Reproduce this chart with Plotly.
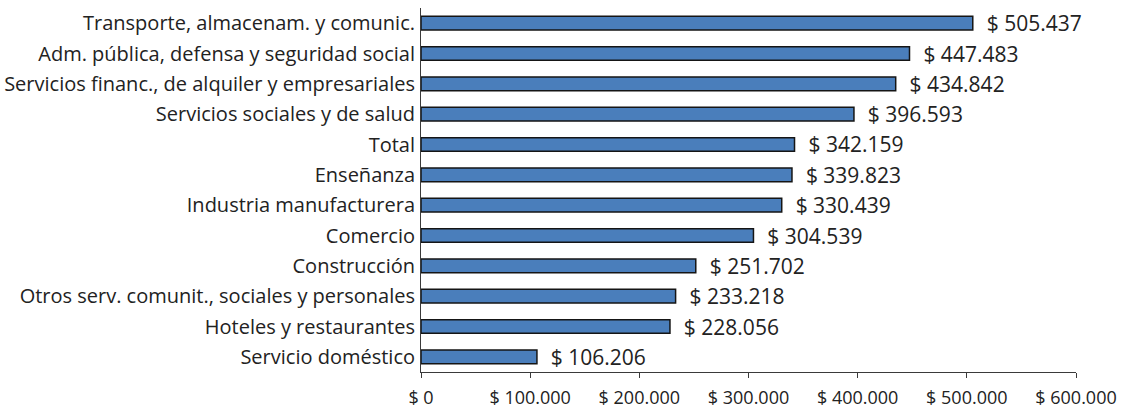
import plotly.graph_objects as go

categories = [
    "Transporte, almacenam. y comunic.",
    "Adm. pública, defensa y seguridad social",
    "Servicios financ., de alquiler y empresariales",
    "Servicios sociales y de salud",
    "Total",
    "Enseñanza",
    "Industria manufacturera",
    "Comercio",
    "Construcción",
    "Otros serv. comunit., sociales y personales",
    "Hoteles y restaurantes",
    "Servicio doméstico",
]
values = [505437, 447483, 434842, 396593, 342159, 339823, 330439, 304539, 251702, 233218, 228056, 106206]
tick_values = [0, 100000, 200000, 300000, 400000, 500000, 600000]
tick_labels = ["$ 0", "$ 100.000", "$ 200.000", "$ 300.000", "$ 400.000", "$ 500.000", "$ 600.000"]

FONT = "Open Sans, sans-serif"

fig = go.Figure(
    go.Bar(
        x=values,
        y=categories,
        orientation="h",
        width=0.45,
        marker=dict(color="#4a7ebb", line=dict(color="#151515", width=1.5)),
        texttemplate="  $ %{x:,.0f}",
        textposition="outside",
        constraintext="none",
        textfont=dict(family=FONT, size=21, color="#222222"),
        cliponaxis=False,
    )
)

fig.update_layout(
    width=1124,
    height=413,
    margin=dict(l=421, r=48, t=8, b=41),
    paper_bgcolor="white",
    plot_bgcolor="white",
    separators=",.",
    showlegend=False,
    font=dict(family=FONT, size=15, color="#222222"),
)
fig.update_xaxes(
    range=[0, 600000],
    tickmode="array",
    tickvals=tick_values,
    ticktext=tick_labels,
    showgrid=False,
    zeroline=False,
    showline=True,
    linecolor="#3a3a3a",
    linewidth=1,
    ticks="outside",
    ticklen=5,
    tickcolor="#3a3a3a",
    ticklabelstandoff=4,
    tickfont=dict(family=FONT, size=18, color="#222222"),
    automargin=False,
)
fig.update_yaxes(
    autorange="reversed",
    showgrid=False,
    showline=True,
    linecolor="#3a3a3a",
    linewidth=1,
    ticks="",
    ticklabelstandoff=1,
    tickfont=dict(family=FONT, size=20, color="#222222"),
    automargin=False,
)

fig.write_html(
    "out.html",
    config={"displayModeBar": False},
    post_script="document.body.style.margin='0';",
)
